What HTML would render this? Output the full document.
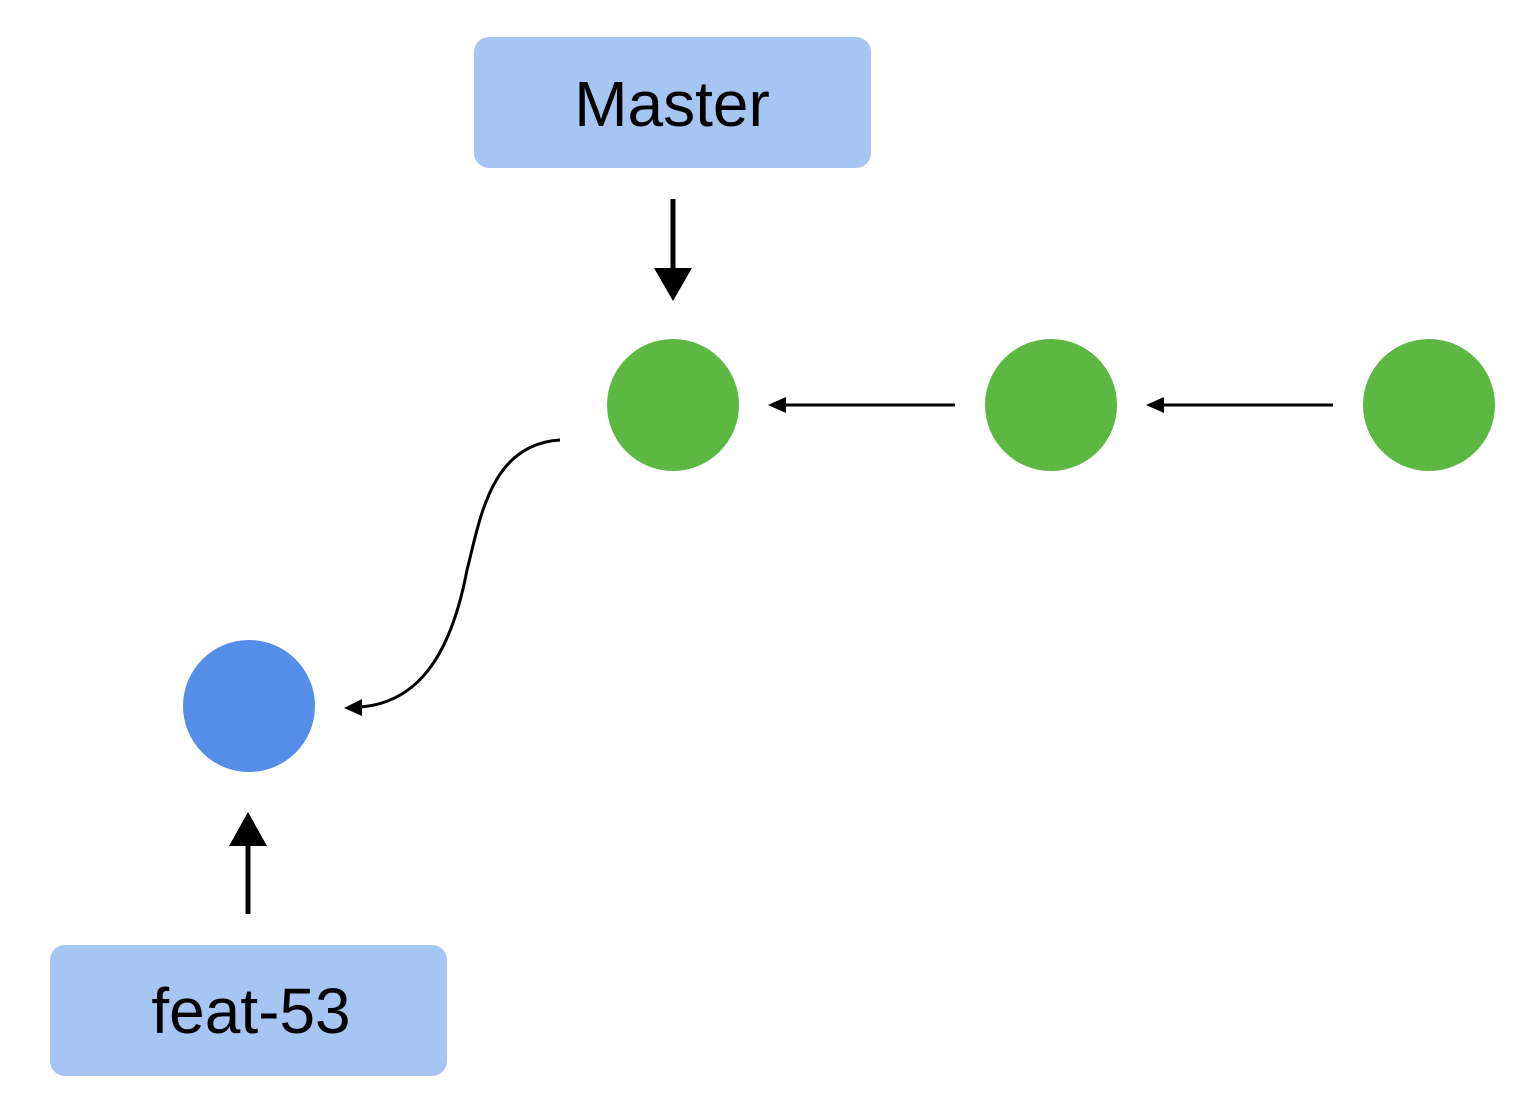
<!DOCTYPE html>
<html><head><meta charset="utf-8"><style>
html,body{margin:0;padding:0;background:#fff;}
svg{display:block;}
</style></head><body>
<svg width="1540" height="1100" viewBox="0 0 1540 1100" xmlns="http://www.w3.org/2000/svg">
<rect x="474" y="37" width="397" height="131" rx="15" fill="#a7c5f2"/>
<text x="672" y="126" font-family="Liberation Sans, sans-serif" font-size="64" text-anchor="middle" fill="#000">Master</text>
<line x1="673" y1="199" x2="673" y2="272" stroke="#000" stroke-width="5"/>
<polygon points="654,268 692,268 673,301" fill="#000"/>
<circle cx="673" cy="405" r="66" fill="#5cb843"/>
<circle cx="1051" cy="405" r="66" fill="#5cb843"/>
<circle cx="1429" cy="405" r="66" fill="#5cb843"/>
<line x1="955" y1="405" x2="782" y2="405" stroke="#000" stroke-width="3"/>
<polygon points="768,405 786,397 786,413" fill="#000"/>
<line x1="1333" y1="405" x2="1160" y2="405" stroke="#000" stroke-width="3"/>
<polygon points="1146,405 1164,397 1164,413" fill="#000"/>
<path d="M560,440 C490,444 480,520 467,570 C450,660 415,703 360,707" fill="none" stroke="#000" stroke-width="3"/>
<polygon points="344,708 362,699 362,716" fill="#000"/>
<circle cx="249" cy="706" r="66" fill="#548ee8"/>
<line x1="248" y1="914" x2="248" y2="842" stroke="#000" stroke-width="5"/>
<polygon points="229,846 267,846 248,812" fill="#000"/>
<rect x="50" y="945" width="397" height="131" rx="15" fill="#a7c5f2"/>
<text x="251" y="1033" font-family="Liberation Sans, sans-serif" font-size="64" text-anchor="middle" fill="#000">feat-53</text>
</svg>
</body></html>
